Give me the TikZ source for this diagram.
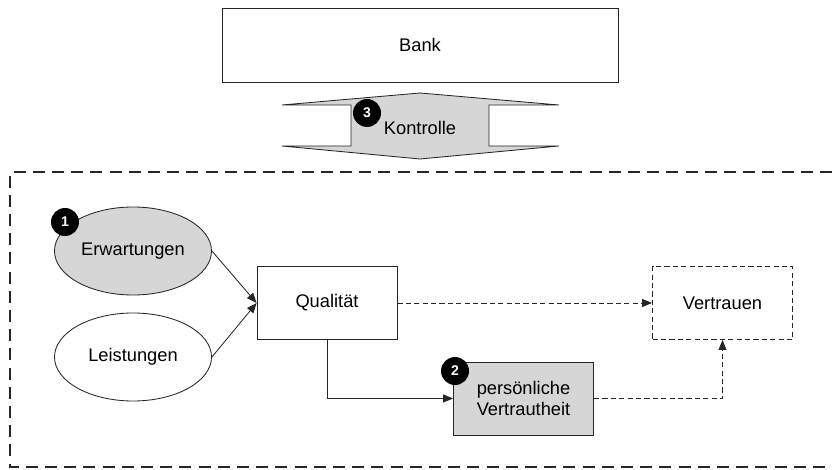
\documentclass[tikz,border=0pt]{standalone}
\usepackage{fontspec}
\setmainfont{Liberation Sans}
\usepackage{tikz}
\usetikzlibrary{arrows.meta,positioning,shapes.geometric}
\colorlet{vtgrey}{black!16}
\colorlet{vtline}{black!85}
\tikzset{
  vtstage/.style={
    draw=vtline,
    line width=0.6pt,
    align=center,
    inner sep=2pt,
    font=\fontsize{13}{15}\selectfont
  },
  vtbox/.style={vtstage,rectangle,minimum width=35mm,minimum height=18.25mm},
  vtgreybox/.style={vtbox,fill=vtgrey},
  vtdashbox/.style={vtbox,dashed,dash pattern=on 1.3mm off 0.8mm},
  vtoval/.style={vtstage,ellipse,minimum width=39.25mm,minimum height=22mm},
  vtbadge/.style={circle,fill=black,text=white,inner sep=0pt,minimum size=7mm,
                  font=\fontsize{10}{12}\selectfont\bfseries},
  vtflow/.style={-{Triangle[length=2.5mm,width=2mm]},line width=0.6pt,vtline},
  vtdflow/.style={vtflow,dash pattern=on 1.3mm off 0.8mm},
  vtframe/.style={line width=1.3pt,dash pattern=on 3mm off 1.8mm,vtline}
}

\begin{document}
\begin{tikzpicture}[x=0.25mm,y=-0.25mm]
  \useasboundingbox (0,0) rectangle (832,470);

  % oben
  \node[vtbox,minimum width=99mm,minimum height=18.5mm] (bank) at (420,45) {Bank};
  \draw[line width=0.6pt,draw=vtline,fill=vtgrey,line join=miter]
    (420,93) -- (559,105) -- (489,105) -- (489,146) -- (559,146) -- (420,159)
    -- (282,146) -- (351,146) -- (351,105) -- (282,105) -- cycle;
  \node[font=\fontsize{13}{15}\selectfont] (ctrl) at (420,128) {Kontrolle};
  \node[vtbadge] (b3) at (367,113) {3};

  % Rahmen
  \draw[vtframe] (832,172) -- (10,172) -- (10,467) -- (832,467);

  % Knoten
  \node[vtoval,fill=vtgrey] (erw) at (133,251) {Erwartungen};
  \node[vtoval] (leis) at (133,357) {Leistungen};
  \node[vtbox] (qual) at (327,303) {Qualität};
  \node[vtgreybox] (pers) at (523.5,398.5) {persönliche\\Vertrautheit};
  \node[vtdashbox] (vert) at (722.5,303) {Vertrauen};
  \node[vtbadge] (b1) at (65,222) {1};
  \node[vtbadge] (b2) at (455,371) {2};

  % Pfeile
  \draw[vtflow] (erw.east) -- (qual.west);
  \draw[vtflow] (leis.east) -- (qual.west);
  \draw[vtdflow] (qual.east) -- (vert.west);
  \draw[vtflow] (qual.south) |- (pers.west);
  \draw[vtdflow] (pers.east) -| (vert.south);
\end{tikzpicture}
\end{document}
